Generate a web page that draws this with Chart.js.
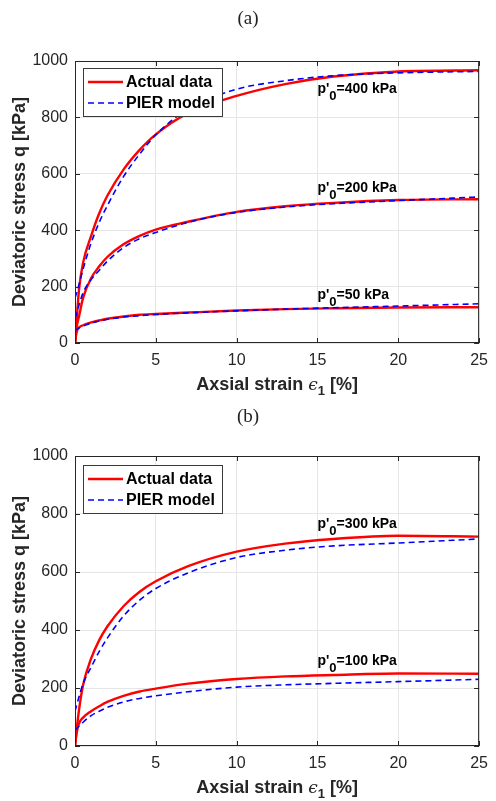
<!DOCTYPE html>
<html>
<head>
<meta charset="utf-8">
<script src="https://cdn.jsdelivr.net/npm/chart.js@4.4.0/dist/chart.umd.min.js"></script>
<style>
body { margin: 0; background: #fff; }
#wrap { position: relative; width: 496px; height: 801px; }
.panel { position: absolute; left: 0; }
.tag { position: absolute; left: 0; width: 496px; text-align: center; font-family: "Liberation Serif", serif; font-size: 19px; color: #222; }
</style>
</head>
<body>
<div id="wrap">
  <canvas id="chartA" class="panel" width="496" height="400" style="top:0"></canvas>
  <canvas id="chartB" class="panel" width="496" height="401" style="top:400px"></canvas>
  <div class="tag" style="top:7px">(a)</div>
  <div class="tag" style="top:405px">(b)</div>
</div>
<script>
// axial strain [%] sample points shared by every curve
const strain = [0, 0.1, 0.25, 0.5, 1, 1.5, 2, 3, 4, 5, 7, 10, 13, 16, 20, 25];

// panel (a) - deviatoric stress [kPa]
const actual400 = [0, 80, 190, 285, 380, 460, 522, 615, 685, 740, 815, 876, 918, 945, 963, 967];
const pier400   = [160, 178, 208, 262, 355, 428, 487, 590, 670, 738, 830, 900, 930, 948, 958, 963];
const actual200 = [0, 55, 95, 160, 230, 272, 305, 350, 380, 402, 430, 465, 485, 497, 507, 510];
const pier200   = [88, 105, 135, 178, 225, 258, 290, 338, 370, 392, 428, 463, 482, 494, 505, 518];
const actual50  = [0, 38, 55, 63, 73, 80, 86, 94, 100, 103, 108, 115, 120, 123, 126, 127];
const pier50    = [45, 48, 53, 60, 70, 78, 84, 92, 97, 101, 107, 114, 120, 125, 131, 139];

// panel (b)
const actual300 = [0, 55, 125, 210, 302, 365, 412, 482, 532, 568, 620, 670, 698, 714, 725, 722];
const pier300   = [120, 140, 170, 215, 272, 326, 372, 448, 503, 543, 597, 650, 675, 690, 700, 714];
const actual100 = [0, 45, 78, 98, 120, 137, 152, 173, 188, 198, 215, 231, 240, 245, 250, 249];
const pier100   = [55, 60, 68, 82, 105, 120, 133, 152, 164, 173, 187, 203, 211, 216, 222, 230];

const pressuresA = [400, 200, 50];
const pressuresB = [300, 100];
// where each p'0 note sits, in data units (strain, stress)
const notesA = [[15, 886], [15, 536], [15, 157]];
const notesB = [[15, 751], [15, 279]];

const xTicks = [0, 5, 10, 15, 20, 25];
const yTicks = [0, 200, 400, 600, 800, 1000];
const seriesNames = ['Actual data', 'PIER model'];

const SANS = '"Liberation Sans", Arial, sans-serif';
const INK = '#262626';

function points(ys) {
    return strain.map((x, i) => ({ x: x, y: ys[i] }));
}

// box, inward tick marks, notes, legend and x title
const decor = {
    id: 'decor',
    afterDatasetsDraw(chart, args, opts) {
        const { ctx, chartArea: a, scales: { x, y } } = chart;
        ctx.save();

        ctx.strokeStyle = INK;
        ctx.lineWidth = 1;
        ctx.beginPath();
        xTicks.forEach(v => {
            const px = Math.round(x.getPixelForValue(v)) + 0.5;
            ctx.moveTo(px, a.bottom); ctx.lineTo(px, a.bottom - 5);
            ctx.moveTo(px, a.top); ctx.lineTo(px, a.top + 5);
        });
        yTicks.forEach(v => {
            const py = Math.round(y.getPixelForValue(v)) + 0.5;
            ctx.moveTo(a.left, py); ctx.lineTo(a.left + 5, py);
            ctx.moveTo(a.right, py); ctx.lineTo(a.right - 5, py);
        });
        ctx.stroke();
        ctx.strokeRect(a.left + 0.5, a.top + 0.5, a.width - 1, a.height - 1);

        // p'0 notes
        ctx.fillStyle = '#000';
        ctx.textBaseline = 'alphabetic';
        ctx.textAlign = 'left';
        opts.pressures.forEach((p, i) => {
            let px = x.getPixelForValue(opts.notes[i][0]);
            const py = y.getPixelForValue(opts.notes[i][1]);
            ctx.font = 'bold 14px ' + SANS;
            ctx.fillText("p'", px, py);
            px += ctx.measureText("p'").width;
            ctx.font = 'bold 13px ' + SANS;
            ctx.fillText('0', px, py + 7);
            px += ctx.measureText('0').width;
            ctx.font = 'bold 14px ' + SANS;
            ctx.fillText('=' + p + ' kPa', px, py);
        });

        // legend
        const lx = a.left + 8, ly = a.top + opts.legendTop;
        ctx.fillStyle = '#fff';
        ctx.fillRect(lx, ly, 140, 49);
        ctx.strokeStyle = '#3a3a3a';
        ctx.strokeRect(lx + 0.5, ly + 0.5, 139, 48);
        seriesNames.forEach((name, i) => {
            const ds = chart.data.datasets.find(d => d.label === name);
            const ry = ly + 14 + i * 21;
            ctx.beginPath();
            ctx.strokeStyle = ds.borderColor;
            ctx.lineWidth = ds.borderWidth;
            ctx.setLineDash(ds.borderDash || []);
            ctx.moveTo(lx + 5, ry);
            ctx.lineTo(lx + 40, ry);
            ctx.stroke();
            ctx.setLineDash([]);
            ctx.fillStyle = '#000';
            ctx.font = 'bold 16px ' + SANS;
            ctx.textBaseline = 'middle';
            ctx.fillText(name, lx + 43, ry + 1);
        });

        // x axis title with subscript
        const parts = [
            { t: 'Axsial strain ', f: 'bold 18px ' + SANS, dy: 0 },
            { t: '\u03F5', f: 'italic 17px "DejaVu Serif", serif', dy: 0 },
            { t: '1', f: 'bold 13px ' + SANS, dy: 5 },
            { t: ' [%]', f: 'bold 18px ' + SANS, dy: 0 }
        ];
        let total = 0;
        parts.forEach(pt => { ctx.font = pt.f; pt.w = ctx.measureText(pt.t).width; total += pt.w; });
        let tx = (a.left + a.right) / 2 - total / 2;
        ctx.fillStyle = INK;
        ctx.textBaseline = 'alphabetic';
        parts.forEach(pt => {
            ctx.font = pt.f;
            ctx.fillText(pt.t, tx, opts.titleBase + pt.dy);
            tx += pt.w;
        });
        ctx.restore();
    }
};

function makeChart(id, actual, pier, opts) {
    const datasets = [];
    actual.forEach((ys, i) => {
        datasets.push({
            label: 'Actual data', data: points(ys), borderColor: '#ff0000', borderWidth: 2.4,
            pointRadius: 0, cubicInterpolationMode: 'monotone', order: 1
        });
        datasets.push({
            label: 'PIER model', data: points(pier[i]), borderColor: '#0000ff', borderWidth: 1.6,
            borderDash: [6, 4], pointRadius: 0, cubicInterpolationMode: 'monotone', order: 0
        });
    });

    return new Chart(document.getElementById(id), {
        type: 'line',
        data: { datasets: datasets },
        options: {
            responsive: false,
            animation: false,
            layout: { padding: { top: opts.top, right: opts.right, left: 0, bottom: 0 } },
            plugins: {
                legend: { display: false },
                tooltip: { enabled: false },
                decor: opts
            },
            scales: {
                x: {
                    type: 'linear', min: 0, max: 25,
                    afterFit(s) { s.height = opts.xHeight; },
                    afterBuildTicks(s) { s.ticks = xTicks.map(v => ({ value: v })); },
                    ticks: { font: { family: SANS, size: 16 }, color: INK, padding: 8, maxRotation: 0,
                             callback: v => String(v) },
                    grid: { color: '#e6e6e6', drawTicks: false },
                    border: { display: false }
                },
                y: {
                    min: 0, max: 1000,
                    afterFit(s) { s.width = 75; },
                    afterBuildTicks(s) { s.ticks = yTicks.map(v => ({ value: v })); },
                    ticks: { font: { family: SANS, size: 16 }, color: INK, padding: 7,
                             callback: v => String(v) },
                    grid: { color: '#e6e6e6', drawTicks: false },
                    border: { display: false },
                    title: {
                        display: true, text: 'Deviatoric stress q [kPa]', color: INK,
                        font: { family: SANS, size: 18, weight: 'bold' }, padding: { top: 9 }
                    }
                }
            }
        },
        plugins: [decor]
    });
}

makeChart('chartA', [actual400, actual200, actual50], [pier400, pier200, pier50], {
    top: 61, right: 9, xHeight: 57, pressures: pressuresA, notes: notesA, legendTop: 7, titleBase: 390
});
makeChart('chartB', [actual300, actual100], [pier300, pier100], {
    top: 56, right: 12, xHeight: 55, pressures: pressuresB, notes: notesB, legendTop: 9, titleBase: 393
});
</script>
</body>
</html>
